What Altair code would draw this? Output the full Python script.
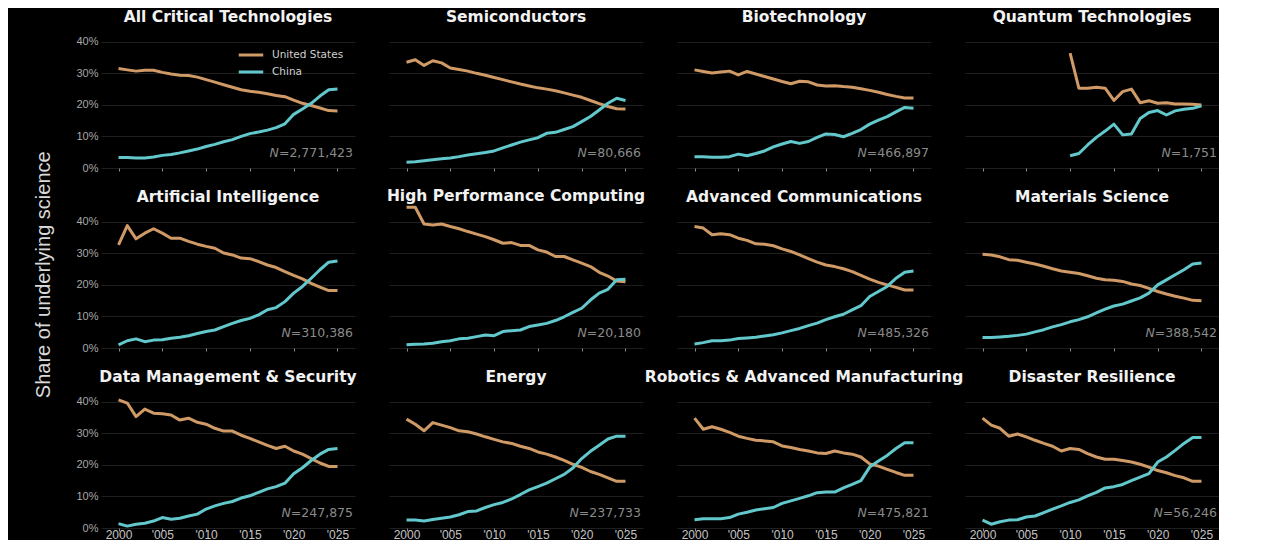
import altair as alt
import pandas as pd

years = list(range(2000, 2026))
quantum_years = list(range(2010, 2026))
tick_years = [2000, 2005, 2010, 2015, 2020, 2025]
share_ticks = [0, 0.1, 0.2, 0.3, 0.4]

techs = [
    "All Critical Technologies", "Semiconductors", "Biotechnology", "Quantum Technologies",
    "Artificial Intelligence", "High Performance Computing", "Advanced Communications", "Materials Science",
    "Data Management & Security", "Energy", "Robotics & Advanced Manufacturing", "Disaster Resilience",
]
n_counts = ["2,771,423", "80,666", "466,897", "1,751", "310,386", "20,180",
            "485,326", "388,542", "247,875", "237,733", "475,821", "56,246"]

# shares in percent
us_all = [31.5, 31.1, 30.7, 31.0, 31.0, 30.3, 29.8, 29.4, 29.3, 28.8, 28.0, 27.2, 26.4, 25.6, 24.8, 24.3, 24.0, 23.5, 23.0, 22.6, 21.5, 20.5, 19.8, 19.0, 18.2, 18.1]
cn_all = [3.3, 3.3, 3.2, 3.2, 3.5, 4.0, 4.3, 4.8, 5.4, 6.0, 6.8, 7.5, 8.3, 9.0, 10.0, 10.9, 11.4, 12.0, 12.8, 14.0, 17.0, 18.7, 20.5, 22.8, 24.8, 25.0]
us_semi = [33.5, 34.3, 32.5, 34.0, 33.3, 31.7, 31.2, 30.7, 30.0, 29.4, 28.7, 28.0, 27.3, 26.6, 26.0, 25.4, 25.0, 24.5, 23.8, 23.1, 22.4, 21.4, 20.4, 19.5, 18.8, 18.7]
cn_semi = [1.8, 2.0, 2.3, 2.6, 2.9, 3.2, 3.6, 4.1, 4.5, 4.9, 5.4, 6.4, 7.3, 8.2, 8.9, 9.6, 11.0, 11.3, 12.2, 13.1, 14.7, 16.3, 18.4, 20.5, 22.1, 21.4]
us_bio = [31.1, 30.6, 30.1, 30.4, 30.7, 29.5, 30.6, 29.8, 29.0, 28.2, 27.4, 26.7, 27.5, 27.3, 26.3, 26.0, 26.1, 25.8, 25.6, 25.1, 24.6, 24.0, 23.3, 22.7, 22.2, 22.2]
cn_bio = [3.6, 3.6, 3.4, 3.4, 3.6, 4.4, 3.9, 4.6, 5.4, 6.7, 7.6, 8.4, 7.8, 8.4, 9.7, 10.8, 10.6, 9.9, 11.0, 12.2, 13.9, 15.2, 16.3, 17.8, 19.2, 18.9]
us_quantum = [36.4, 25.3, 25.3, 25.6, 25.3, 21.4, 24.2, 25.0, 20.7, 21.3, 20.5, 20.7, 20.3, 20.3, 20.2, 20.0]
cn_quantum = [3.9, 4.6, 7.3, 9.7, 11.7, 13.9, 10.5, 10.8, 15.7, 17.6, 18.2, 16.8, 18.1, 18.6, 18.9, 19.7]
us_ai = [32.7, 38.8, 34.6, 36.4, 37.8, 36.4, 34.8, 34.8, 33.8, 32.9, 32.2, 31.6, 30.1, 29.5, 28.5, 28.3, 27.4, 26.3, 25.5, 24.2, 23.0, 21.9, 20.5, 19.3, 18.2, 18.2]
cn_ai = [1.0, 2.3, 2.9, 2.0, 2.5, 2.6, 3.1, 3.4, 3.9, 4.6, 5.2, 5.7, 6.8, 7.8, 8.7, 9.4, 10.5, 12.1, 12.8, 14.7, 17.4, 19.5, 22.1, 24.8, 27.2, 27.6]
us_hpc = [44.6, 44.6, 39.3, 39.0, 39.3, 38.5, 37.8, 36.9, 36.1, 35.3, 34.3, 33.2, 33.4, 32.5, 32.5, 31.1, 30.4, 29.0, 29.0, 27.9, 26.9, 25.8, 24.0, 22.8, 21.2, 21.0]
cn_hpc = [1.0, 1.2, 1.3, 1.5, 2.0, 2.3, 2.9, 3.1, 3.6, 4.1, 3.9, 5.2, 5.5, 5.7, 6.8, 7.3, 7.8, 8.7, 9.9, 11.3, 12.6, 15.2, 17.4, 18.6, 21.6, 21.8]
us_comm = [38.5, 38.0, 35.9, 36.2, 35.9, 34.8, 34.1, 33.0, 32.9, 32.4, 31.4, 30.6, 29.5, 28.3, 27.2, 26.3, 25.8, 25.1, 24.2, 23.0, 21.8, 20.8, 20.0, 19.2, 18.4, 18.4]
cn_comm = [1.3, 1.7, 2.3, 2.3, 2.5, 3.0, 3.2, 3.4, 3.8, 4.2, 4.8, 5.5, 6.2, 7.1, 7.9, 9.0, 9.9, 10.7, 12.1, 13.4, 16.3, 17.9, 19.5, 22.1, 24.0, 24.4]
us_mat = [29.7, 29.5, 28.9, 28.0, 27.8, 27.2, 26.6, 25.9, 25.1, 24.4, 24.0, 23.6, 22.9, 22.1, 21.6, 21.5, 21.1, 20.3, 19.8, 18.9, 17.9, 17.1, 16.4, 15.8, 15.1, 15.0]
cn_mat = [3.3, 3.3, 3.5, 3.7, 4.0, 4.4, 5.1, 5.8, 6.7, 7.4, 8.3, 9.0, 9.9, 11.1, 12.3, 13.3, 13.9, 14.9, 15.9, 17.4, 20.0, 21.6, 23.2, 24.8, 26.6, 26.9]
us_data = [40.6, 39.6, 35.3, 37.7, 36.4, 36.2, 35.8, 34.2, 34.8, 33.5, 32.9, 31.6, 30.7, 30.7, 29.4, 28.4, 27.3, 26.2, 25.2, 25.9, 24.4, 23.4, 22.0, 20.6, 19.5, 19.5]
cn_data = [1.4, 0.6, 1.2, 1.5, 2.2, 3.3, 2.8, 3.1, 3.8, 4.4, 6.0, 7.0, 7.8, 8.4, 9.5, 10.2, 11.3, 12.4, 13.1, 14.2, 17.2, 19.1, 21.4, 23.4, 24.9, 25.2]
us_energy = [34.5, 32.9, 30.8, 33.4, 32.6, 31.8, 30.8, 30.5, 29.8, 28.9, 28.1, 27.3, 26.8, 25.9, 25.2, 24.1, 23.4, 22.5, 21.4, 20.2, 19.2, 17.9, 17.0, 15.9, 14.8, 14.8]
cn_energy = [2.5, 2.5, 2.2, 2.7, 3.1, 3.5, 4.2, 5.2, 5.4, 6.5, 7.4, 8.1, 9.2, 10.6, 12.1, 13.1, 14.2, 15.6, 17.0, 19.0, 22.0, 24.3, 26.2, 28.2, 29.1, 29.1]
us_robot = [34.8, 31.3, 32.1, 31.3, 30.3, 29.1, 28.4, 27.8, 27.6, 27.3, 26.0, 25.5, 24.9, 24.4, 23.8, 23.6, 24.4, 23.8, 23.4, 22.5, 20.3, 19.6, 18.6, 17.6, 16.7, 16.7]
cn_robot = [2.6, 2.9, 2.9, 2.9, 3.3, 4.4, 5.0, 5.7, 6.1, 6.5, 7.8, 8.6, 9.4, 10.2, 11.2, 11.4, 11.4, 12.7, 13.8, 15.0, 19.3, 21.2, 23.0, 25.2, 27.0, 27.0]
us_disaster = [34.8, 32.6, 31.6, 29.1, 29.8, 28.9, 27.8, 26.8, 25.9, 24.4, 25.2, 24.9, 23.6, 22.5, 21.8, 21.8, 21.4, 20.9, 20.2, 19.3, 18.2, 17.5, 16.6, 15.9, 14.8, 14.8]
cn_disaster = [2.5, 1.2, 2.0, 2.5, 2.6, 3.5, 3.8, 4.9, 6.0, 7.0, 8.1, 8.9, 10.2, 11.3, 12.7, 13.1, 13.8, 15.0, 16.1, 17.2, 20.9, 22.5, 24.6, 26.8, 28.7, 28.7]

us_series = [us_all, us_semi, us_bio, us_quantum, us_ai, us_hpc, us_comm, us_mat,
             us_data, us_energy, us_robot, us_disaster]
cn_series = [cn_all, cn_semi, cn_bio, cn_quantum, cn_ai, cn_hpc, cn_comm, cn_mat,
             cn_data, cn_energy, cn_robot, cn_disaster]

countries = ["United States", "China"]
US_COLOR = "#cf9a66"
CN_COLOR = "#62c8cc"

recs = []
for i, tech in enumerate(techs):
    yrs = years if len(us_series[i]) == len(years) else quantum_years
    for yr, u, c in zip(yrs, us_series[i], cn_series[i]):
        recs.append({"tech": tech, "year": yr, "country": "United States", "share": u / 100})
        recs.append({"tech": tech, "year": yr, "country": "China", "share": c / 100})
df = pd.DataFrame(recs)

# approximate DejaVu Sans advance widths (em) for placing the italic "N"
CHAR_W = {"0": 0.636, "1": 0.636, "2": 0.636, "3": 0.636, "4": 0.636, "5": 0.636,
          "6": 0.636, "7": 0.636, "8": 0.636, "9": 0.636, ",": 0.318, "=": 0.838}
N_SIZE = 12.5

W, H = 254, 142
x_scale = alt.Scale(domain=[1998, 2027], nice=False, zero=False)
y_scale = alt.Scale(domain=[0, 0.45], nice=False, zero=False)
color_scale = alt.Scale(domain=countries, range=[US_COLOR, CN_COLOR])
legend = alt.Legend(
    title=None, orient="none", legendX=136, legendY=22, direction="vertical",
    symbolType="stroke", symbolStrokeWidth=3, symbolSize=600, clipHeight=14,
    labelFont="DejaVu Sans", labelFontSize=10.5, labelColor="#cfcfcf",
    labelOffset=7, rowPadding=3,
)


def panel(i):
    tech = techs[i]
    row, col = divmod(i, 4)
    sub = df[df.tech == tech]
    x_axis = alt.Axis(
        values=tick_years, labels=(row == 2),
        labelExpr="datum.value == 2000 ? '2000' : \"'\" + substring(datum.label, 2)",
        ticks=True, tickSize=3, tickColor="#8a8a8a", tickWidth=1,
        domain=False, grid=False, title=None,
        labelColor="#c4c4c4", labelFont="Liberation Sans", labelFontSize=12,
        labelPadding=-2,
    )
    y_axis = alt.Axis(
        values=share_ticks, format=".0%", labels=(col == 0),
        labelOverlap=False, tickCount=5, ticks=False, domain=False, grid=True,
        gridColor="#1f1f1f", gridWidth=1,
        labelColor="#a8a8a8", labelFont="Liberation Sans", labelFontSize=11,
        labelPadding=3, title=None,
    )
    x = alt.X("year:Q", scale=x_scale, axis=x_axis)
    y = alt.Y("share:Q", scale=y_scale, axis=y_axis)

    lines = alt.Chart(sub).mark_line(strokeWidth=3, strokeJoin="round").encode(
        x=x, y=y,
        color=alt.Color("country:N", scale=color_scale, legend=legend),
    )
    num_txt = "=" + n_counts[i]
    num_w = sum(CHAR_W.get(ch, 0.6) for ch in num_txt) * N_SIZE
    lab_df = pd.DataFrame({"num": [num_txt], "n": ["N"]})
    txt_x = alt.XDatum(2027, axis=x_axis, scale=x_scale)
    txt_y = alt.YDatum(0.047, axis=y_axis, scale=y_scale)
    num = alt.Chart(lab_df).mark_text(
        align="right", baseline="middle", font="DejaVu Sans", fontSize=N_SIZE,
        color="#8a8a8a", dx=-2,
    ).encode(x=txt_x, y=txt_y, text="num:N")
    nlab = alt.Chart(lab_df).mark_text(
        align="right", baseline="middle", font="DejaVu Sans", fontSize=N_SIZE,
        fontStyle="italic", color="#8a8a8a", dx=-2 - num_w,
    ).encode(x=txt_x, y=txt_y, text="n:N")

    return alt.layer(lines, num, nlab).properties(
        width=W, height=H,
        title=alt.TitleParams(tech, font="DejaVu Sans", fontSize=15.5, fontWeight="bold",
                              color="#f2f2f2", anchor="middle", offset=1),
    )


chart = alt.concat(
    *[panel(i) for i in range(12)], columns=4,
    spacing={"row": 38, "column": 34},
).properties(
    bounds="flush",
    title=alt.TitleParams("Share of underlying science", orient="left", anchor="middle",
                          font="Liberation Sans", fontSize=20, fontWeight="normal",
                          color="#d9d9d9", offset=22),
    padding={"left": 25, "top": 1, "right": 0, "bottom": 0},
).configure(background="#000000").configure_view(strokeWidth=0)

chart.save("out.html", embed_options={"renderer": "svg", "actions": False})
